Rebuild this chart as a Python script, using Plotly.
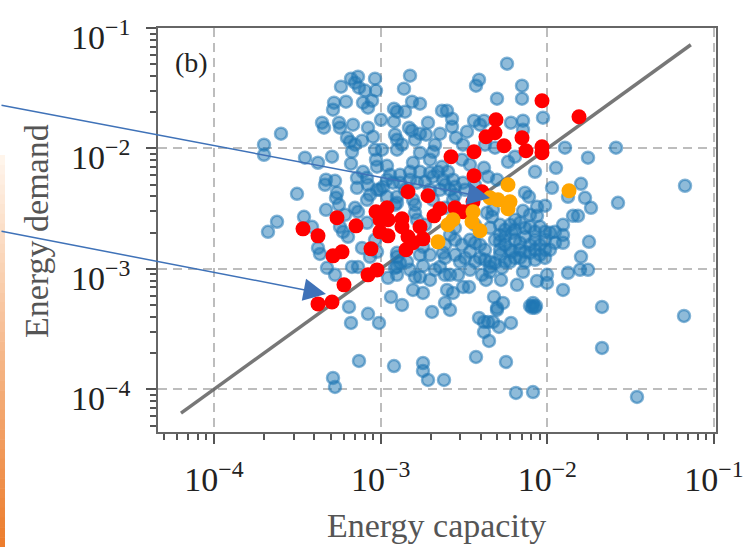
import numpy as np
import plotly.graph_objects as go

# log10 of the values
blue_log_capacity = [
-3.136,-3.178,-3.034,-2.824,-3.238,-3.154,-3.130,-3.094,-3.028,-2.860,-3.280,-3.208,-3.286,-3.106,-3.052,-3.076,-2.812,-2.764,-2.920,-2.902,
-2.854,-2.632,-2.602,-2.998,-2.920,-3.352,-3.340,-3.250,-3.244,-3.166,-3.076,-2.716,-2.830,-2.812,-2.914,-2.902,-3.202,-3.184,-3.112,-3.154,
-3.046,-2.764,-2.728,-2.794,-2.644,-2.674,-2.686,-3.034,-2.992,-2.902,-2.872,-3.172,-2.764,-3.454,-3.376,-3.292,-3.178,-3.028,-3.022,-2.962,
-2.806,-3.106,-3.328,-3.274,-3.334,-2.884,-2.824,-2.704,-2.656,-3.082,-3.142,-3.142,-3.076,
-3.700,-3.700,-3.598,-3.502,-3.622,-3.676,-3.460,-3.412,-3.262,-3.268,-3.250,-3.328,-3.154,-3.136,-3.082,-3.022,-2.986,-2.926,-2.962,-2.902,
-2.824,-2.794,-2.782,-3.244,-3.226,-3.196,-3.082,-3.376,-3.364,-3.112,-3.064,-3.022,-2.902,-2.884,-2.746,-2.626,-3.322,-3.274,-3.172,-3.136,
-2.914,-2.746,-2.644,-2.614,-2.956,-2.902,-2.794,-2.764,-2.806,-2.746,-2.902,-2.902,-2.842,-2.962,-2.884,-2.782,-2.686,-2.626,-3.004,-2.902,
-2.806,-2.584,
-3.190,-3.076,-3.178,-3.010,-3.130,-2.920,-2.746,-2.746,-2.716,-2.620,-3.286,-3.274,-2.938,-2.872,-2.692,-2.602,-2.566,-2.614,-2.584,-2.506,
-2.470,-2.410,-2.356,-2.326,-2.380,-2.290,-2.218,-2.380,-2.350,-2.428,-2.248,-2.188,-2.086,-2.320,-2.266,-2.302,-2.302,-2.086,-2.104,-2.068,
-2.086,-2.092,-2.074,-1.672,-1.672,-1.180,-1.462,-2.182,-2.062,-2.146,-2.278,-2.368,-2.392,-2.344,-2.344,-2.374,-2.272,-2.536,-2.584,-2.002,
-2.002,-1.906,-1.876,-1.804,-1.756,-1.798,-1.750,
-2.242,-2.410,-2.428,-2.152,-2.302,-2.152,-2.026,-2.146,-2.218,-2.440,-2.380,-2.404,-2.572,-2.572,-2.146,-2.482,-2.548,-2.506,-2.374,-2.314,
-1.894,-1.588,-1.756,-2.194,-2.236,-2.512,-1.948,-2.074,-2.380,-2.356,-2.302,-1.798,-1.972,-1.174,-1.774,-1.876,-1.576,-1.738,-1.816,-1.846,
-1.906,-1.906,-1.906,-2.134,-2.110,-2.014,-2.062,-2.146,-2.062,-2.326,-2.362,-2.632,-2.596,-2.566,-2.506,-2.614,-2.554,-2.494,-2.614,-2.332,
-2.566,-2.704,
-2.284,-2.224,-2.164,-2.104,-2.044,-1.984,-2.314,-2.254,-2.194,-2.134,-2.074,-2.014,-1.954,-2.284,-2.224,-2.164,-2.104,-2.044,-1.984,-2.194,
-2.134,-2.074,-2.014,-2.254,-2.314,-2.464,-2.464,-2.554,-2.554,-2.614,-2.434,-2.494,-2.434,-2.374,-2.344,-2.284,-2.212,-2.614,-2.686,-2.344,
-2.524,-2.434,-2.704,-2.674,-2.734,
-2.254,-2.194,-2.134,-2.074,-2.014,-2.254,-2.164,-2.104,-2.044,-2.212,-2.134,-2.074,-2.014,-2.224,-2.164,-1.954,-2.284,-2.404,-2.404,-2.512,
-2.554,-2.584,-2.944,-2.764,-2.734,-2.644,-2.554,-2.464,-2.434,-2.704,-2.854,-3.064,-2.914,-3.214,-2.794,-3.034,-2.764,-2.824,-2.704,-2.464,
-2.284,-2.194,-2.104,
]
blue_log_demand = [
-1.404,-1.421,-1.421,-1.396,-1.487,-1.454,-1.496,-1.520,-1.520,-1.504,-1.620,-1.612,-1.678,-1.620,-1.604,-1.662,-1.612,-1.629,-1.670,-1.695,
-1.695,-1.687,-1.687,-1.762,-1.778,-1.786,-1.828,-1.786,-1.828,-1.803,-1.828,-1.786,-1.828,-1.853,-1.886,-1.928,-1.911,-1.944,-1.936,-1.969,
-1.903,-1.878,-1.886,-1.928,-1.878,-1.969,-2.028,-2.011,-2.011,-2.011,-1.969,-2.028,-2.036,-2.077,-2.119,-2.069,-2.127,-2.094,-2.152,-2.144,
-2.119,-2.194,-2.260,-2.269,-2.302,-2.219,-2.194,-2.202,-2.194,-2.244,-2.244,-2.327,-2.302,
-1.969,-2.053,-1.878,-2.377,-2.609,-2.693,-2.568,-2.651,-2.368,-2.410,-2.468,-2.510,-2.493,-2.526,-2.427,-2.344,-2.319,-2.285,-2.402,-2.402,
-2.260,-2.535,-2.593,-2.651,-2.693,-2.734,-2.618,-2.826,-2.876,-2.826,-2.900,-2.859,-2.867,-2.950,-2.817,-2.867,-2.992,-3.050,-2.984,-2.984,
-2.992,-2.975,-2.984,-3.050,-3.075,-3.050,-3.067,-3.067,-3.175,-3.200,-2.900,-2.984,-2.942,-2.260,-2.285,-2.285,-2.235,-2.260,-2.344,-2.452,
-2.427,-2.344,
-3.316,-3.374,-3.449,-3.449,-3.765,-3.807,-3.782,-3.848,-3.923,-3.923,-3.906,-3.981,-3.233,-3.300,-3.358,-3.175,-3.200,-3.283,-3.341,-3.150,
-3.150,-3.408,-3.441,-3.441,-3.441,-3.482,-3.449,-3.524,-3.599,-3.732,-3.773,-4.031,-4.023,-3.233,-3.283,-3.324,-3.341,-3.308,-3.308,-3.308,
-3.283,-3.324,-3.324,-3.316,-3.657,-3.391,-4.064,-3.133,-3.100,-3.025,-3.092,-3.092,-3.050,-3.025,-2.984,-2.925,-2.992,-3.050,-3.050,-3.050,
-3.117,-3.175,-3.033,-3.008,-3.008,-2.900,-2.776,
-1.296,-1.429,-1.479,-1.479,-1.587,-1.587,-1.745,-1.770,-1.786,-1.770,-1.770,-1.803,-1.753,-1.820,-1.845,-1.861,-1.911,-1.969,-1.969,-1.994,
-1.994,-1.994,-2.077,-2.069,-2.111,-2.094,-2.161,-2.194,-2.161,-2.235,-2.260,-2.294,-2.327,-2.310,-2.410,-2.402,-2.452,-2.493,-2.560,-2.560,
-2.634,-2.718,-2.784,-2.368,-2.402,-2.476,-2.485,-2.518,-2.560,-2.510,-2.535,-2.152,-2.194,-2.260,-2.285,-2.302,-2.319,-2.344,-2.493,-2.568,
-2.427,-2.344,
-2.634,-2.634,-2.618,-2.651,-2.651,-2.701,-2.759,-2.734,-2.759,-2.734,-2.759,-2.759,-2.784,-2.842,-2.842,-2.842,-2.867,-2.884,-2.842,-2.909,
-2.942,-2.925,-2.909,-2.942,-2.950,-2.759,-2.859,-2.759,-2.659,-2.909,-2.784,-2.909,-2.942,-2.842,-2.942,-2.776,-2.701,-2.801,-2.427,-2.659,
-2.942,-2.634,-2.884,-3.008,-2.634,
-2.676,-2.676,-2.660,-2.693,-2.693,-2.801,-2.784,-2.801,-2.801,-2.859,-2.859,-2.842,-2.842,-2.942,-2.909,-2.693,-2.718,-2.801,-2.909,-2.801,
-2.884,-2.718,-2.219,-2.194,-2.277,-2.344,-2.385,-2.136,-2.302,-2.094,-2.344,-2.385,-2.468,-2.551,-2.468,-2.759,-2.884,-3.008,-3.092,-3.008,
-2.884,-2.593,-2.551,
]
red_log_capacity = [
-2.308,-2.032,-1.810,-2.314,-2.368,-2.152,-2.260,-2.440,-2.128,-2.032,-2.032,-2.578,-2.440,-2.836,-2.716,-2.644,-2.680,-3.028,-2.962,-2.986,
-3.262,-3.148,-2.872,-2.872,-2.764,-3.004,-2.956,-3.004,-2.956,-2.836,-2.746,-2.806,-2.848,-3.466,-3.376,-3.058,-3.232,-3.286,-3.022,-3.076,
-3.220,-3.376,-3.292,-2.392,-2.446,-2.554,-2.506,
]
red_log_demand = [
-1.762,-1.604,-1.737,-1.870,-1.903,-1.911,-1.978,-2.028,-2.019,-1.986,-2.036,-2.069,-2.227,-2.360,-2.393,-2.501,-2.560,-2.526,-2.493,-2.551,
-2.576,-2.643,-2.585,-2.651,-2.651,-2.593,-2.593,-2.693,-2.726,-2.734,-2.751,-2.784,-2.842,-2.668,-2.726,-2.834,-2.859,-2.892,-3.009,-3.050,
-3.133,-3.291,-3.275,-2.360,-2.443,-2.493,-2.526,
]
orange_log_capacity = [-2.236,-1.870,-2.344,-2.296,-2.224,-2.236,-2.446,-2.452,-2.566,-2.596,-2.404,-2.656]
orange_log_demand = [-2.302,-2.352,-2.410,-2.427,-2.443,-2.501,-2.526,-2.609,-2.593,-2.634,-2.684,-2.776]
line_log = [-4.198, -1.139]

major_exponents = [-4, -3, -2, -1]
major_labels = ["10<sup>\u22124</sup>", "10<sup>\u22123</sup>", "10<sup>\u22122</sup>", "10<sup>\u22121</sup>"]
x_title = "Energy capacity"
y_title = "Energy demand"
panel_label = "(b)"

W, H = 753, 547
L, R, T, B = 158, 716, 28, 432
SERIF = "Liberation Serif"
def pxx(p): return (p - L) / (R - L)
def pxy(p): return 1 - (p - T) / (B - T)

fig = go.Figure()
fig.add_trace(go.Scatter(x=10.0 ** np.array(line_log), y=10.0 ** np.array(line_log), mode="lines",
                         line=dict(color="rgba(95,95,95,0.85)", width=3.5), showlegend=False))
fig.add_trace(go.Scatter(x=10.0 ** np.array(blue_log_capacity), y=10.0 ** np.array(blue_log_demand), mode="markers",
                         marker=dict(size=12, color="rgba(31,119,180,0.5)",
                                     line=dict(color="rgba(31,119,180,0.55)", width=2.5)), showlegend=False))
fig.add_trace(go.Scatter(x=10.0 ** np.array(red_log_capacity), y=10.0 ** np.array(red_log_demand), mode="markers",
                         marker=dict(size=15, color="#ff0000"), showlegend=False))
fig.add_trace(go.Scatter(x=10.0 ** np.array(orange_log_capacity), y=10.0 ** np.array(orange_log_demand), mode="markers",
                         marker=dict(size=15, color="#ffa500"), showlegend=False))

minor_vals = [m * 10.0 ** d for d in range(-5, -1) for m in range(2, 10)]
def axis(rng, standoff, show_labels):
    return dict(type="log", range=rng, tickmode="array", automargin=False,
                tickvals=[10.0 ** e for e in major_exponents], ticktext=major_labels,
                showticklabels=show_labels,
                ticks="outside", ticklen=10, tickwidth=2, tickcolor="#555",
                tickfont=dict(family=SERIF, size=34, color="#222"), ticklabelstandoff=standoff,
                showgrid=True, gridcolor="#bdbdbd", gridwidth=2, griddash="9px,6px",
                zeroline=False, showline=True, linecolor="#666", linewidth=2, mirror=True,
                minor=dict(ticks="outside", ticklen=6, tickwidth=1.5, tickcolor="#555",
                           tickmode="array", tickvals=minor_vals, showgrid=False))

stripe = []
n = 40
for i in range(n):
    y0 = 155 + (547 - 155) * i / n
    y1 = 155 + (547 - 155) * (i + 1) / n + 0.5
    t = i / (n - 1)
    c = (int(255 - 18 * t), int(245 - 120 * t), int(235 - 190 * t))
    stripe.append(dict(type="rect", xref="paper", yref="paper", x0=pxx(0), x1=pxx(5), y0=pxy(y0), y1=pxy(y1),
                       fillcolor=f"rgb{c}", line_width=0, layer="below"))

def arrow(tx, ty, sx, sy):
    return dict(xref="paper", yref="paper", x=pxx(tx), y=pxy(ty), ax=sx - tx, ay=sy - ty, text="",
                showarrow=True, arrowhead=2, arrowsize=3, arrowwidth=1.5, arrowcolor="#3f72b8", standoff=0)

y_tick_labels = [
    dict(xref="paper", yref="y", x=pxx(132), y=e, xanchor="right", yanchor="middle", yshift=-7,
         text=lab, showarrow=False, font=dict(family=SERIF, size=34, color="#222"))
    for e, lab in zip(major_exponents, major_labels)
]

fig.update_layout(
    width=W, height=H, autosize=False, paper_bgcolor="white", plot_bgcolor="white",
    margin=dict(l=L, r=W - R, t=T, b=H - B),
    xaxis=axis([-4.336, -0.988], 6, True),
    yaxis=axis([-4.355, -1.0], 7, False),
    shapes=stripe,
    annotations=y_tick_labels + [
        dict(xref="paper", yref="paper", x=pxx(191), y=pxy(63), xanchor="center", yanchor="middle",
             text=panel_label, showarrow=False, font=dict(family=SERIF, size=28, color="#222")),
        dict(xref="paper", yref="paper", x=pxx(436), y=pxy(525), xanchor="center", yanchor="middle",
             text=x_title, showarrow=False, font=dict(family=SERIF, size=34, color="#555")),
        dict(xref="paper", yref="paper", x=pxx(36), y=pxy(231), xanchor="center", yanchor="middle",
             text=y_title, textangle=-90, showarrow=False, font=dict(family=SERIF, size=34, color="#555")),
        arrow(490, 198, 0, 105),
        arrow(326, 294, 0, 231),
    ],
)
fig.write_html("out.html", post_script="document.body.style.margin='0';", config=dict(displayModeBar=False))
